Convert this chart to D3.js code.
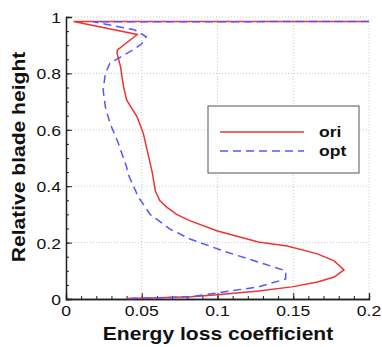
<!DOCTYPE html>
<html>
<head>
<meta charset="utf-8">
<script src="https://cdn.jsdelivr.net/npm/d3@7"></script>
<style>
  body { margin: 0; background: #fff; }
  text { font-family: Arial, "Liberation Sans", sans-serif; }
</style>
</head>
<body>
<svg id="chart" width="382" height="347"></svg>
<script>
// 数据：能量损失系数 (x) 与相对叶高 (y)
var oriLoss = [0.2, 0.005, 0.047, 0.034, 0.0337, 0.036, 0.038, 0.040, 0.047, 0.051, 0.054, 0.057, 0.059, 0.062, 0.0665, 0.073, 0.082, 0.100, 0.127, 0.146, 0.166, 0.177, 0.1835, 0.177, 0.166, 0.149, 0.127, 0.100, 0.0825, 0.060, 0.040]
var oriHeight = [0.984, 0.984, 0.938, 0.883, 0.872, 0.823, 0.752, 0.706, 0.645, 0.588, 0.517, 0.447, 0.383, 0.348, 0.326, 0.300, 0.277, 0.241, 0.202, 0.188, 0.160, 0.135, 0.103, 0.078, 0.060, 0.043, 0.028, 0.015, 0.008, 0.004, 0.002]

var optLoss = [0.2, 0.018, 0.045, 0.053, 0.050, 0.044, 0.036, 0.029, 0.026, 0.0245, 0.026, 0.029, 0.0345, 0.040, 0.041, 0.0477, 0.0555, 0.0686, 0.0818, 0.104, 0.127, 0.145, 0.145, 0.127, 0.104, 0.0825, 0.060, 0.040]
var optHeight = [0.984, 0.983, 0.955, 0.930, 0.905, 0.883, 0.858, 0.836, 0.800, 0.741, 0.681, 0.624, 0.553, 0.468, 0.443, 0.362, 0.300, 0.248, 0.213, 0.170, 0.131, 0.100, 0.071, 0.043, 0.025, 0.008, 0.004, 0.002]

var xTicks = [0, 0.05, 0.1, 0.15, 0.2]
var yTicks = [0, 0.2, 0.4, 0.6, 0.8, 1]
var seriesNames = ["ori", "opt"]

var svg = d3.select("#chart")
var padding = {left: 66, right: 13, top: 17, bottom: 48}
var W = 382, H = 347
var stretch = 1.17   // 原图文字横向偏宽

var xScale = d3.scaleLinear().domain([0, 0.2]).range([padding.left, W - padding.right])
var yScale = d3.scaleLinear().domain([0, 1]).range([H - padding.bottom, padding.top])

// 加一个横向拉伸的文字
function addText(x, y, str, size, weight, anchor, rot) {
    return svg.append("text")
        .attr("transform", "translate(" + x + "," + y + ")" + (rot ? " rotate(" + rot + ")" : "") + " scale(" + stretch + ",1)")
        .attr("text-anchor", anchor).attr("font-size", size + "px").attr("font-weight", weight)
        .attr("fill", "#111")
        .text(str)
}

// 网格线
var grid = svg.append("g")
grid.selectAll(".gx").data(xTicks.slice(1)).enter().append("line")
    .attr("x1", d => xScale(d)).attr("x2", d => xScale(d))
    .attr("y1", yScale(0)).attr("y2", yScale(1))
    .attr("stroke", "#c8c8c8").attr("stroke-width", 1).attr("stroke-dasharray", "1,2")
grid.selectAll(".gy").data(yTicks.slice(1)).enter().append("line")
    .attr("x1", xScale(0)).attr("x2", xScale(0.2))
    .attr("y1", d => yScale(d)).attr("y2", d => yScale(d))
    .attr("stroke", "#c8c8c8").attr("stroke-width", 1).attr("stroke-dasharray", "1,2")

// x 轴（刻度朝内）
var xAxis = d3.axisTop(xScale).tickValues(xTicks).tickSize(6).tickFormat("")
var xMinor = d3.axisTop(xScale).tickValues(d3.range(0, 0.2001, 0.01)).tickSize(3).tickFormat("")
var gx = svg.append("g").attr("transform", "translate(0," + yScale(0) + ")")
gx.call(xMinor)
gx.append("g").call(xAxis)
gx.selectAll(".domain").attr("stroke", "#222").attr("stroke-width", 1.3)
gx.selectAll(".tick line").attr("stroke", "#222")

// y 轴
var yAxis = d3.axisRight(yScale).tickValues(yTicks).tickSize(6).tickFormat("")
var yMinor = d3.axisRight(yScale).tickValues(d3.range(0, 1.0001, 0.05)).tickSize(3).tickFormat("")
var gy = svg.append("g").attr("transform", "translate(" + xScale(0) + ",0)")
gy.call(yMinor)
gy.append("g").call(yAxis)
gy.selectAll(".domain").attr("stroke", "#222").attr("stroke-width", 1.3)
gy.selectAll(".tick line").attr("stroke", "#222")

// 刻度标签
xTicks.forEach(function (d) {
    addText(xScale(d), yScale(0) + 17, d3.format("")(d), 15, "normal", "middle")
})
yTicks.forEach(function (d) {
    addText(xScale(0) - 5, yScale(d) + 6, d3.format("")(d), 15, "normal", "end")
})

// 轴标题
addText(218, 340, "Energy loss coefficient", 18, "bold", "middle")
addText(25, 157, "Relative blade height", 18, "bold", "middle", -90)

// 曲线
var line = d3.line().x(d => xScale(d[0])).y(d => yScale(d[1]))
var oriData = oriLoss.map((v, i) => [v, oriHeight[i]])
var optData = optLoss.map((v, i) => [v, optHeight[i]])
var colors = ["#ee3333", "#5555ff"]
var dashes = [null, "8,5"]

svg.append("path").datum(oriData).attr("d", line)
    .attr("fill", "none").attr("stroke", colors[0]).attr("stroke-width", 1.5)
svg.append("path").datum(optData).attr("d", line)
    .attr("fill", "none").attr("stroke", colors[1]).attr("stroke-width", 1.5)
    .attr("stroke-dasharray", dashes[1])

// 图例
var lg = svg.append("g")
lg.append("rect").attr("x", 208).attr("y", 106).attr("width", 151).attr("height", 67)
    .attr("fill", "#fff").attr("stroke", "#555").attr("stroke-width", 1)
seriesNames.forEach(function (name, i) {
    var y = 132 + i * 19
    lg.append("line").attr("x1", 220).attr("x2", 304).attr("y1", y).attr("y2", y)
        .attr("stroke", colors[i]).attr("stroke-width", 1.5).attr("stroke-dasharray", dashes[i])
    addText(319, y + 5, name, 15, "bold", "start")
})
</script>
</body>
</html>
